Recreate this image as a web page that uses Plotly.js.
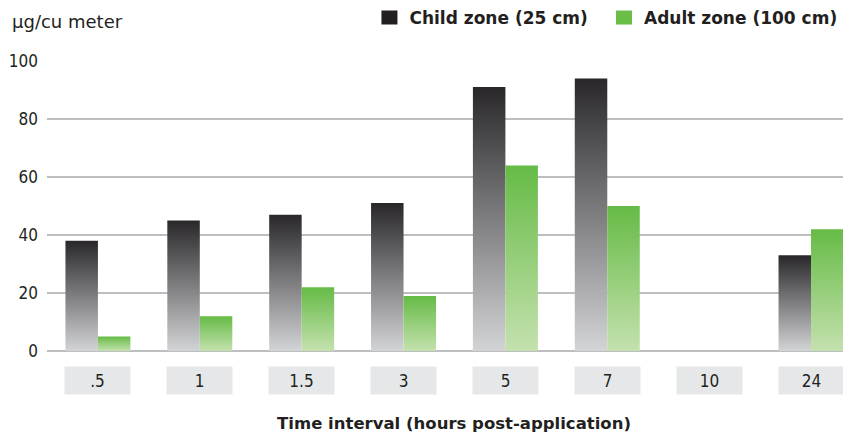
<!DOCTYPE html>
<html>
<head>
<meta charset="utf-8">
<script src="https://cdn.plot.ly/plotly-3.0.1.min.js"></script>
<style>
  html, body { margin: 0; padding: 0; background: #ffffff; }
  #chart { width: 843px; height: 437px; }
</style>
</head>
<body>
<div id="chart"></div>
<script>
// Sampling intervals (hours after application) and measured concentrations
const categories = ['.5', '1', '1.5', '3', '5', '7', '10', '24'];
const childZone = [38, 45, 47, 51, 91, 94, null, 33];
const adultZone = [5, 12, 22, 19, 64, 50, null, 42];
const yTicks = [0, 20, 40, 60, 80, 100];

const NARROW = '"DejaVu Sans Condensed", "DejaVu Sans", sans-serif';
const WIDE = '"DejaVu Sans", sans-serif';
const INK = '#231f20';
const CHILD = '#231f20';
const ADULT = '#6abd45';

const traces = [
  {
    type: 'bar', name: 'Child zone (25 cm)', legend: 'legend',
    x: categories, y: childZone,
    marker: { color: CHILD, line: { width: 0 } },
    hoverinfo: 'x+y'
  },
  {
    type: 'bar', name: 'Adult zone (100 cm)', legend: 'legend2',
    x: categories, y: adultZone,
    marker: { color: ADULT, line: { width: 0 } },
    hoverinfo: 'x+y'
  }
];

// Grey label plates under each group (placed by category index)
const plates = categories.map((c, i) => ({
  x: i, xref: 'x', y: -0.1014, yref: 'paper',
  xanchor: 'center', yanchor: 'middle',
  text: c, showarrow: false,
  width: 65, height: 27, borderpad: 0,
  bgcolor: '#e6e7e8',
  font: { family: NARROW, size: 17, color: INK }
}));

const legendStyle = {
  orientation: 'h', y: 1.148, yanchor: 'middle',
  font: { family: WIDE, size: 17, color: INK, weight: 'bold' },
  bgcolor: 'rgba(0,0,0,0)', itemclick: false, itemdoubleclick: false
};

const layout = {
  width: 843, height: 437,
  margin: { l: 47, r: 0, t: 60, b: 86, pad: 0 },
  paper_bgcolor: '#ffffff', plot_bgcolor: '#ffffff',
  barmode: 'group', bargap: 0.362, bargroupgap: 0,
  font: { family: NARROW, color: INK },
  showlegend: true,
  legend: Object.assign({ x: 0.4051, xanchor: 'left' }, legendStyle),
  legend2: Object.assign({ x: 1, xanchor: 'right' }, legendStyle),
  xaxis: {
    type: 'category', range: [-0.5, 7.314],
    showticklabels: false, showgrid: false, zeroline: false, showline: false,
    ticks: '', fixedrange: true,
    title: {
      text: 'Time interval (hours post-application)', standoff: 66,
      font: { family: WIDE, size: 16.5, color: INK, weight: 'bold' }
    }
  },
  yaxis: {
    range: [0, 100], tickvals: yTicks, ticks: '',
    showgrid: true, gridcolor: '#bcbec0', gridwidth: 1.5,
    zeroline: true, zerolinecolor: '#bcbec0', zerolinewidth: 1.5,
    showline: false, fixedrange: true, ticklabelstandoff: 8,
    tickfont: { family: NARROW, size: 17, color: INK }
  },
  annotations: plates.concat([{
    text: 'µg/cu meter', showarrow: false,
    xref: 'paper', yref: 'paper', x: -0.046, y: 1.1375,
    xanchor: 'left', yanchor: 'middle',
    font: { family: WIDE, size: 18, color: INK }
  }])
};

// Vertical shading for the bars: dark at the top fading to a pale tint
function addGradient(defs, id, top, bottom) {
  const ns = 'http://www.w3.org/2000/svg';
  const g = document.createElementNS(ns, 'linearGradient');
  g.setAttribute('id', id);
  g.setAttribute('x1', '0'); g.setAttribute('y1', '0');
  g.setAttribute('x2', '0'); g.setAttribute('y2', '1');
  [[0, top], [1, bottom]].forEach(([o, c]) => {
    const s = document.createElementNS(ns, 'stop');
    s.setAttribute('offset', o);
    s.setAttribute('stop-color', c);
    g.appendChild(s);
  });
  defs.appendChild(g);
}

const gd = document.getElementById('chart');
Plotly.newPlot(gd, traces, layout, { displayModeBar: false, staticPlot: true }).then(() => {
  const defs = gd.querySelector('svg.main-svg defs');
  addGradient(defs, 'shade-child', '#29272a', '#d3d4d6');
  addGradient(defs, 'shade-adult', '#66bb46', '#c4e1ae');
  const ids = ['shade-child', 'shade-adult'];
  gd.querySelectorAll('.barlayer .trace').forEach((tr, i) => {
    tr.querySelectorAll('.point path').forEach(p => {
      p.style.fill = 'url(#' + ids[i] + ')';
    });
  });
  // slightly larger legend swatches
  gd.querySelectorAll('.legendpoints path').forEach(p => {
    p.setAttribute('d', 'M8,7H-8V-7H8Z');
  });
  // nudge the axis title a little right of the plot centre
  const xt = gd.querySelector('.g-xtitle text');
  if (xt) xt.setAttribute('x', parseFloat(xt.getAttribute('x')) + 9);
});
</script>
</body>
</html>
